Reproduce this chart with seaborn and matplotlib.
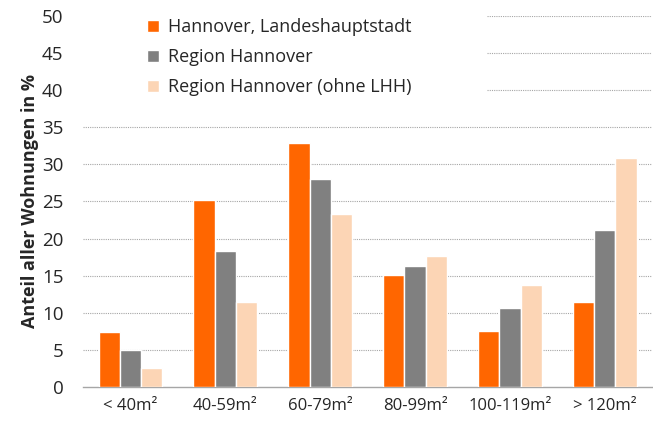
import pandas as pd
import matplotlib.pyplot as plt
import seaborn as sns

# Daten
kategorien = ['< 40m²', '40-59m²', '60-79m²', '80-99m²', '100-119m²', '> 120m²']
serien = ['Hannover, Landeshauptstadt', 'Region Hannover', 'Region Hannover (ohne LHH)']
lhh = [7.4, 25.2, 32.9, 15.1, 7.6, 11.4]
region = [5.0, 18.3, 28.0, 16.3, 10.7, 21.2]
region_ohne = [2.6, 11.5, 23.3, 17.6, 13.8, 30.9]
farben = ['#FF6600', '#808080', '#FCD5B5']
y_ticks = [0, 5, 10, 15, 20, 25, 30, 35, 40, 45, 50]

df = pd.DataFrame({'Kategorie': kategorien * 3,
                   'Serie': [s for s in serien for _ in kategorien],
                   'Wert': lhh + region + region_ohne})

sns.set_style('white')
plt.rcParams['font.family'] = ['Open Sans', 'DejaVu Sans']

fig = plt.figure(figsize=(6.53, 4.21), dpi=100)
ax = fig.add_axes([0.127, 0.081, 0.872, 0.881])

sns.barplot(data=df, x='Kategorie', y='Wert', hue='Serie', order=kategorien,
            hue_order=serien, palette=dict(zip(serien, farben)),
            width=0.67, saturation=1, ax=ax, zorder=3)

# Gitterlinien (oben von der Legende ausgespart)
for v in y_ticks[1:]:
    ax.axhline(v, xmin=0 if v <= 35 else 0.709, color='#A6A6A6',
               lw=0.8, ls=(0, (1, 1)), zorder=1)

ax.set_ylim(0, 50)
ax.set_xlim(-0.5, len(kategorien) - 0.5)
ax.set_yticks(y_ticks)
ax.tick_params(axis='y', length=0, pad=14, labelsize=13.5, labelcolor='#262626')
ax.tick_params(axis='x', length=0, pad=8, labelsize=12, labelcolor='#262626')
ax.set_xticks(range(len(kategorien)), kategorien)
ax.set_xticks([i - 0.5 for i in range(len(kategorien) + 1)], minor=True)
ax.tick_params(axis='x', which='minor', length=5, color='#A6A6A6', width=1, direction='out')

ax.set_xlabel('')
ax.set_ylabel('Anteil aller Wohnungen in %', fontsize=13, fontweight='bold',
              color='#262626', labelpad=2)

for s in ['top', 'right', 'left']:
    ax.spines[s].set_visible(False)
ax.spines['bottom'].set_color('#A6A6A6')
ax.spines['bottom'].set_linewidth(1)

leg = ax.legend(loc='upper left', bbox_to_anchor=(0.112, 0.994), frameon=False,
                fontsize=13, handlelength=0.7, handleheight=0.7,
                handletextpad=0.5, labelspacing=0.67, borderpad=0, borderaxespad=0)
for t in leg.get_texts():
    t.set_color('#262626')

fig.savefig('out.png', dpi=100)
